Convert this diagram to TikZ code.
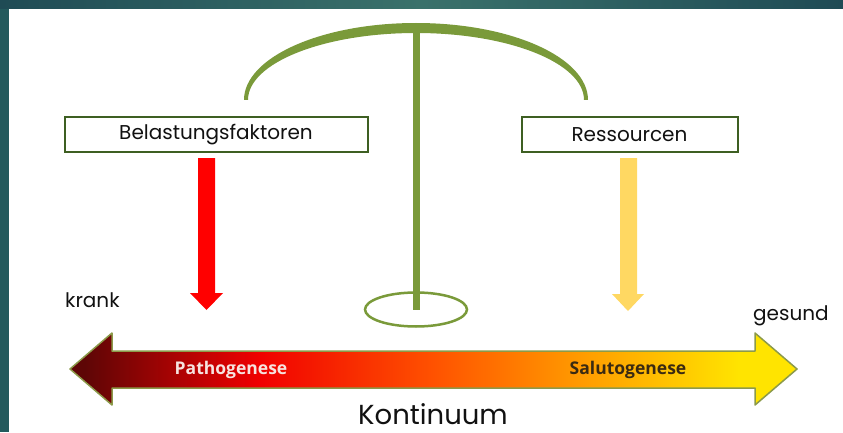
\documentclass[tikz,border=0pt]{standalone}
\usepackage{fontspec}
\setmainfont{Poppins}
\newfontfamily\boldlab{Open Sans}
\definecolor{tealD}{HTML}{1F4B55}
\definecolor{tealL}{HTML}{3A716B}
\definecolor{tealM}{HTML}{235A5D}
\definecolor{balgreen}{HTML}{7A9A3A}
\definecolor{boxgreen}{HTML}{3E5F22}
\definecolor{arrborder}{HTML}{8C9A4A}
\definecolor{resyellow}{HTML}{FFD862}
\definecolor{kc0}{HTML}{5E0606}
\definecolor{kc1}{HTML}{F00000}
\definecolor{kc2}{HTML}{FF5200}
\definecolor{kc3}{HTML}{FF9A00}
\definecolor{kc4}{HTML}{FFE400}
\definecolor{pathtext}{HTML}{F6E4E0}
\definecolor{salutext}{HTML}{3A2A12}
\definecolor{txt}{HTML}{111111}
\pgfdeclarehorizontalshading{kont}{100bp}{color(0bp)=(kc0); color(26bp)=(kc0); color(38bp)=(kc1); color(50bp)=(kc2); color(60bp)=(kc3); color(71bp)=(kc4); color(100bp)=(kc4)}
\tikzset{
  labelbox/.style={draw=boxgreen, line width=2pt, fill=white, inner sep=0pt, text=txt,
    font=\fontsize{20}{20}\selectfont},
  plain/.style={text=txt, inner sep=0pt, font=\fontsize{20}{20}\selectfont},
  genlabel/.style={inner sep=0pt, font=\boldlab\bfseries\fontsize{17.5}{17.5}\selectfont}
}
\begin{document}
\begin{tikzpicture}[x=1pt,y=1pt]
\useasboundingbox (0,0) rectangle (843,432);
% frame
\fill[tealM] (0,0) rectangle (843,432);
\shade[left color=tealD, right color=tealD, middle color=tealL] (0,423) rectangle (843,432);
\fill[white] (9,0) rectangle (843,423);
% balance
\fill[balgreen] (244,332) arc[start angle=180, end angle=0, x radius=172, y radius=77]
  -- (584,332) arc[start angle=0, end angle=180, x radius=168, y radius=67] -- cycle;
\coordinate (postbot) at (416,122.5);
\fill[balgreen] (412.5,122.5) rectangle (419.5,402);
\draw[balgreen, line width=2.5pt] (postbot) ellipse[x radius=51, y radius=17];
% boxes
\node[labelbox, minimum width=303, minimum height=34] (bel) at (216,297.5) {Belastungsfaktoren};
\node[labelbox, minimum width=216, minimum height=34] (res) at (629.5,297.5) {Ressourcen};
% downward arrows
\fill[red] (198,274) -- (215,274) -- (215,139) -- (223,139) -- (206.5,122) -- (190,139) -- (198,139) -- cycle;
\fill[resyellow] (620,274) -- (637,274) -- (637,138) -- (644,138) -- (628,121) -- (612,138) -- (620,138) -- cycle;
% continuum arrow
\shadedraw[shading=kont, draw=arrborder, line width=1.5pt, line join=round]
  (70,63) -- (112,99) -- (112,81) -- (755,81) -- (755,99) -- (797,63)
  -- (755,27) -- (755,44) -- (112,44) -- (112,27) -- cycle;
\node[genlabel, text=pathtext] (patho) at (231,62) {Pathogenese};
\node[genlabel, text=salutext] (saluto) at (628,62) {Salutogenese};
% labels
\node[plain, anchor=base west] (krank) at (65,125) {krank};
\node[plain, anchor=base west] (gesund) at (753,112) {gesund};
\node[text=txt, inner sep=0pt, anchor=base, font=\fontsize{27.5}{27.5}\selectfont] (kont) at (433,8) {Kontinuum};
\end{tikzpicture}
\end{document}
